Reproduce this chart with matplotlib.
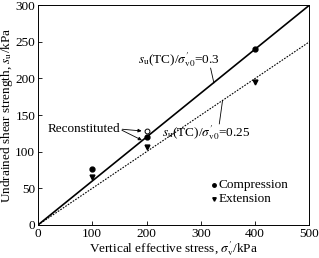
import matplotlib
matplotlib.use("Agg")
import matplotlib.pyplot as plt

plt.rcParams['font.family'] = ['Liberation Serif', 'DejaVu Serif']
plt.rcParams['mathtext.fontset'] = 'stix'
plt.rcParams['font.size'] = 10

# data
comp_x = [100, 200, 400]
comp_y = [77, 120, 240]
ext_x = [100, 200, 400]
ext_y = [65, 107, 195]
recon_x = [200]
recon_y = [128]

line_x = [0, 500]
slope_solid = 0.6
slope_dotted = 0.5

fig = plt.figure(figsize=(3.19, 2.58), dpi=100)
ax = fig.add_axes([0.119, 0.128, 0.851, 0.852])

ax.plot(line_x, [slope_solid * v for v in line_x], color="black", lw=1.2)
ax.plot(line_x, [slope_dotted * v for v in line_x], color="black", lw=0.8, ls=(0, (1.5, 1.2)))

ax.plot(comp_x, comp_y, "o", color="black", ms=3.5)
ax.plot(ext_x, ext_y, "v", color="black", ms=3.5)
ax.plot(recon_x, recon_y, "o", mfc="white", mec="black", ms=3.5, mew=0.7)

lbl1 = r"$s_\mathrm{u}$(TC)/$\sigma^{\prime}_{\mathrm{v0}}$=0.3"
lbl2 = r"$s_\mathrm{u}$(TC)/$\sigma^{\prime}_{\mathrm{v0}}$=0.25"
ax.text(184, 226, lbl1, fontsize=9.5, va="center")
ax.plot([318, 324], [214, 194], color="black", lw=0.6)
ax.text(228, 126, lbl2, fontsize=9.5, va="center")
ax.plot([334, 340], [138, 170], color="black", lw=0.6)

ax.text(17, 131, "Reconstituted", fontsize=9.5, va="center")
ax.annotate("", xy=(196, 128), xytext=(150, 131),
            arrowprops=dict(arrowstyle="-|>", lw=0.6, color="black", mutation_scale=5))
ax.annotate("", xy=(196, 114), xytext=(150, 131),
            arrowprops=dict(arrowstyle="-|>", lw=0.6, color="black", mutation_scale=5))

ax.plot([325], [55], "o", color="black", ms=2.5)
ax.text(333, 55, "Compression", fontsize=9.5, va="center")
ax.plot([325], [36], "v", color="black", ms=2.5)
ax.text(333, 36, "Extension", fontsize=9.5, va="center")

ax.set_xlim(0, 500)
ax.set_ylim(0, 300)
ax.set_xticks([0, 100, 200, 300, 400, 500])
ax.set_yticks([0, 50, 100, 150, 200, 250, 300])
ax.tick_params(direction="in", length=3, width=0.6, labelsize=9.5, pad=2)
for s in ax.spines.values():
    s.set_linewidth(0.7)

ax.set_xlabel(r"Vertical effective stress, $\sigma^{\prime}_\mathrm{v}$/kPa", fontsize=9.5, labelpad=0)
ax.set_ylabel(r"Undrained shear strength, $s_\mathrm{u}$/kPa", fontsize=9.5, labelpad=0)

fig.savefig("out.png", dpi=100)
